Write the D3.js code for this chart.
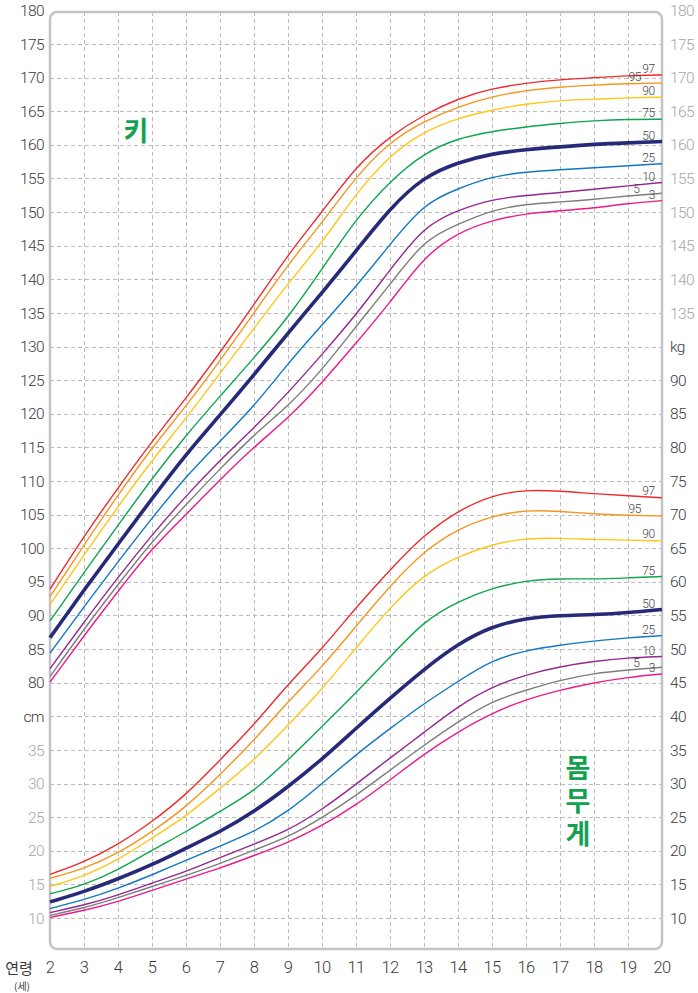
<!DOCTYPE html>
<html>
<head>
<meta charset="utf-8">
<script src="https://cdn.jsdelivr.net/npm/d3@7"></script>
<style>
  html, body { margin: 0; padding: 0; background: #fff; }
  svg { display: block; }
</style>
</head>
<body>
<div id="chart"></div>
<script>
// ages (years)
const ages = [2, 3, 4, 5, 6, 7, 8, 9, 10, 11, 12, 13, 14, 15, 16, 17, 18, 19, 20];

// height percentiles (cm)
const height97 = [93.9, 101.8, 109.0, 115.9, 122.3, 129.1, 136.2, 143.7, 150.0, 156.8, 161.3, 164.5, 166.9, 168.4, 169.2, 169.7, 170.0, 170.3, 170.4];
const height95 = [92.8, 100.5, 107.9, 115.0, 121.1, 127.9, 135.0, 142.2, 148.4, 155.3, 160.5, 163.5, 165.7, 167.2, 168.1, 168.6, 168.9, 169.1, 169.2];
const height90 = [91.6, 99.0, 106.2, 113.1, 119.3, 126.0, 132.7, 139.4, 145.4, 152.8, 158.5, 162.0, 164.0, 165.2, 166.1, 166.6, 166.8, 167.0, 167.1];
const height75 = [89.2, 96.4, 103.4, 110.4, 116.8, 122.6, 128.3, 134.3, 141.5, 149.0, 154.6, 158.8, 161.0, 162.0, 162.7, 163.2, 163.6, 163.8, 163.8];
const height50 = [86.7, 93.8, 100.6, 107.4, 114.0, 119.8, 125.8, 132.0, 138.0, 144.2, 150.6, 155.3, 157.4, 158.7, 159.3, 159.7, 160.1, 160.3, 160.5];
const height25 = [84.4, 91.3, 98.0, 104.5, 110.7, 115.9, 121.1, 127.5, 133.2, 138.9, 145.2, 151.3, 153.5, 155.3, 156.0, 156.3, 156.6, 156.9, 157.2];
const height10 = [82.1, 89.0, 95.7, 102.0, 107.8, 113.1, 117.9, 123.1, 128.8, 134.7, 141.4, 147.9, 150.3, 151.9, 152.5, 152.9, 153.4, 153.9, 154.4];
const height5  = [80.9, 88.0, 94.6, 101.0, 106.5, 111.8, 116.9, 121.1, 126.5, 133.0, 139.2, 145.9, 148.2, 150.3, 151.2, 151.5, 151.9, 152.4, 152.8];
const height3  = [80.1, 87.0, 93.6, 100.0, 105.0, 110.2, 115.1, 119.3, 124.6, 130.5, 136.5, 143.4, 147.0, 148.8, 149.8, 150.2, 150.6, 151.3, 151.7];

// weight percentiles (kg)
const weight97 = [16.5, 18.3, 20.9, 24.3, 28.3, 33.5, 38.7, 44.8, 50.0, 56.2, 61.8, 67.0, 70.6, 72.9, 73.7, 73.5, 73.1, 72.8, 72.5];
const weight95 = [15.9, 17.3, 19.6, 22.8, 26.5, 31.3, 36.4, 42.2, 47.3, 53.4, 59.4, 64.6, 67.9, 69.8, 70.7, 70.5, 70.1, 69.9, 69.8];
const weight90 = [14.7, 16.2, 18.6, 21.9, 25.1, 29.3, 33.4, 38.7, 44.0, 50.2, 56.2, 61.1, 63.8, 65.6, 66.5, 66.5, 66.3, 66.2, 66.1];
const weight75 = [13.6, 14.9, 17.1, 20.1, 22.8, 25.9, 28.8, 33.5, 38.5, 43.5, 48.8, 54.2, 57.1, 59.1, 60.2, 60.5, 60.4, 60.6, 60.8];
const weight50 = [12.4, 13.9, 15.8, 17.9, 20.4, 22.8, 25.8, 29.5, 33.6, 38.2, 42.7, 47.0, 50.8, 53.4, 54.6, 55.0, 55.1, 55.4, 55.9];
const weight25 = [11.4, 12.7, 14.4, 16.4, 18.6, 20.7, 22.8, 25.8, 30.0, 34.3, 38.2, 41.9, 45.2, 48.4, 49.8, 50.6, 51.2, 51.7, 52.0];
const weight10 = [10.8, 11.9, 13.4, 15.2, 16.9, 19.0, 21.0, 23.0, 26.1, 29.9, 33.8, 37.6, 41.5, 44.4, 46.2, 47.4, 48.2, 48.7, 48.9];
const weight5  = [10.4, 11.5, 13.0, 14.7, 16.3, 18.1, 20.1, 22.0, 24.9, 28.2, 32.0, 35.7, 39.2, 42.3, 43.9, 45.4, 46.4, 46.9, 47.3];
const weight3  = [10.1, 11.1, 12.4, 14.1, 15.8, 17.4, 19.3, 21.2, 23.7, 26.8, 30.5, 34.4, 37.7, 40.5, 42.5, 43.9, 45.0, 45.8, 46.3];

const percentiles = ['97', '95', '90', '75', '50', '25', '10', '5', '3'];
const heightSeries = [height97, height95, height90, height75, height50, height25, height10, height5, height3];
const weightSeries = [weight97, weight95, weight90, weight75, weight50, weight25, weight10, weight5, weight3];

// tick labels
const leftHeightTicks = [80, 85, 90, 95, 100, 105, 110, 115, 120, 125, 130, 135, 140, 145, 150, 155, 160, 165, 170, 175, 180];
const leftWeightTicks = [10, 15, 20, 25, 30, 35];
const rightHeightTicks = [135, 140, 145, 150, 155, 160, 165, 170, 175, 180];
const rightWeightTicks = [10, 15, 20, 25, 30, 35, 40, 45, 50, 55, 60, 65, 70, 75, 80, 85, 90];
const ageTicks = [2, 3, 4, 5, 6, 7, 8, 9, 10, 11, 12, 13, 14, 15, 16, 17, 18, 19, 20];

const lineColor = {
    '97': '#ee2a2f', '95': '#f7941e', '90': '#ffc617', '75': '#0da54f', '50': '#262a78',
    '25': '#1078c2', '10': '#93278f', '5': '#7d7d7d', '3': '#ec1a8c'
};
// label nudges along age axis so the small labels don't collide
const labelAge = { '97': 19.6, '95': 19.2, '90': 19.6, '75': 19.6, '50': 19.6, '25': 19.6, '10': 19.6, '5': 19.25, '3': 19.7 };

const width = 698, height = 993;
const frame = { left: 50, right: 662, top: 12, bottom: 949 };

const x = d3.scaleLinear().domain([2, 20]).range([frame.left, frame.right]);
const yH = d3.scaleLinear().domain([80, 180]).range([682.7, 10.4]);
// weight axis shares the grid: 10 kg sits on 45 cm, 90 kg on 125 cm
const yW = d3.scaleLinear().domain([10, 90]).range([yH(45), yH(125)]);

const svg = d3.select('#chart').append('svg')
    .attr('width', width)
    .attr('height', height)
    .attr('viewBox', `0 0 ${width} ${height}`);

// grid
const grid = svg.append('g')
    .attr('stroke', '#bcbcbc')
    .attr('stroke-width', 1)
    .attr('stroke-dasharray', '4,3');

grid.selectAll('line.h')
    .data(d3.range(45, 180, 5))
    .enter().append('line')
    .attr('class', 'h')
    .attr('x1', frame.left).attr('x2', frame.right)
    .attr('y1', d => Math.round(yH(d)) + 0.5)
    .attr('y2', d => Math.round(yH(d)) + 0.5);

grid.selectAll('line.v')
    .data(ageTicks.slice(1, -1))
    .enter().append('line')
    .attr('class', 'v')
    .attr('x1', d => Math.round(x(d)) + 0.5)
    .attr('x2', d => Math.round(x(d)) + 0.5)
    .attr('y1', frame.top).attr('y2', frame.bottom);

// frame
svg.append('rect')
    .attr('x', frame.left)
    .attr('y', frame.top)
    .attr('width', frame.right - frame.left)
    .attr('height', frame.bottom - frame.top)
    .attr('rx', 7)
    .attr('fill', 'none')
    .attr('stroke', '#c3c3c7')
    .attr('stroke-width', 2.5);

// curves (smoothed like the printed chart)
const lineH = d3.line().x((d, i) => x(ages[i])).y(d => yH(d)).curve(d3.curveBasis);
const lineW = d3.line().x((d, i) => x(ages[i])).y(d => yW(d)).curve(d3.curveBasis);

function drawSet(series, lineGen, scale) {
    const g = svg.append('g').attr('fill', 'none');
    // draw 50th last so it sits on top
    const order = [0, 1, 2, 3, 5, 6, 7, 8, 4];
    order.forEach(i => {
        const p = percentiles[i];
        g.append('path')
            .attr('d', lineGen(series[i]))
            .attr('stroke', lineColor[p])
            .attr('stroke-width', p === '50' ? 3.6 : 1.4)
            .attr('stroke-linejoin', 'round');
    });

    const lab = svg.append('g')
        .attr('font-family', 'Roboto, "Noto Sans", sans-serif')
        .attr('font-size', 12)
        .attr('font-weight', 300)
        .attr('letter-spacing', -0.4)
        .attr('fill', '#444')
        .attr('text-anchor', 'middle');
    percentiles.forEach((p, i) => {
        const a = labelAge[p];
        const v0 = series[i][ages.length - 2], v1 = series[i][ages.length - 1];
        const v = v0 + (v1 - v0) * (a - 19);
        lab.append('text')
            .attr('x', x(a))
            .attr('y', scale(v) - 2.5)
            .text(p);
    });
}

drawSet(heightSeries, lineH, yH);
drawSet(weightSeries, lineW, yW);

// axis labels
const tickFont = 'Roboto, "Noto Sans", sans-serif';
const dark = '#3a3a3a', light = '#a6a6a6';

function tickText(g, data, xPos, yScale, anchor, color) {
    g.selectAll(null)
        .data(data)
        .enter().append('text')
        .attr('x', xPos)
        .attr('y', d => yScale(d))
        .attr('dy', '0.36em')
        .attr('text-anchor', anchor)
        .attr('fill', color)
        .text(d => d);
}

const axisG = svg.append('g')
    .attr('font-family', tickFont)
    .attr('font-size', 15.5)
    .attr('font-weight', 300)
    .attr('letter-spacing', -0.6);

tickText(axisG, leftHeightTicks, 44, yH, 'end', dark);
tickText(axisG, leftWeightTicks, 44, yW, 'end', light);
tickText(axisG, rightHeightTicks, 670, yH, 'start', light);
tickText(axisG, rightWeightTicks, 670, yW, 'start', dark);

axisG.append('text')
    .attr('x', 44).attr('y', yH(75)).attr('dy', '0.36em')
    .attr('text-anchor', 'end').attr('fill', dark)
    .text('cm');
axisG.append('text')
    .attr('x', 670).attr('y', yW(95)).attr('dy', '0.36em')
    .attr('text-anchor', 'start').attr('fill', dark)
    .text('kg');

// age axis
svg.append('g')
    .attr('font-family', tickFont)
    .attr('font-size', 16.5)
    .attr('font-weight', 300)
    .attr('letter-spacing', -0.6)
    .attr('fill', dark)
    .attr('text-anchor', 'middle')
    .selectAll('text')
    .data(ageTicks)
    .enter().append('text')
    .attr('x', d => x(d))
    .attr('y', 967)
    .attr('dy', '0.36em')
    .text(d => d);

svg.append('text')
    .attr('x', 19).attr('y', 967)
    .attr('dominant-baseline', 'central')
    .attr('text-anchor', 'middle')
    .attr('font-family', '"Noto Sans CJK KR", sans-serif')
    .attr('font-size', 15)
    .attr('fill', dark)
    .text('연령');
svg.append('text')
    .attr('x', 22).attr('y', 985.5)
    .attr('dominant-baseline', 'central')
    .attr('text-anchor', 'middle')
    .attr('font-family', '"Noto Sans CJK KR", sans-serif')
    .attr('font-size', 10)
    .attr('fill', dark)
    .text('(세)');

// section titles
const green = '#12a24f';
svg.append('text')
    .attr('x', 136).attr('y', 129.5)
    .attr('dominant-baseline', 'central')
    .attr('text-anchor', 'middle')
    .attr('font-family', '"Noto Sans CJK KR", sans-serif')
    .attr('font-weight', 700)
    .attr('font-size', 27)
    .attr('fill', green)
    .text('키');

// weight title set vertically, one glyph per 33px
svg.append('text')
    .attr('x', 578)
    .attr('y', 754)
    .attr('font-family', '"Noto Sans CJK KR", sans-serif')
    .attr('font-weight', 700)
    .attr('font-size', 27)
    .attr('letter-spacing', 6)
    .attr('fill', green)
    .style('writing-mode', 'vertical-rl')
    .text('몸무게');
</script>
</body>
</html>
